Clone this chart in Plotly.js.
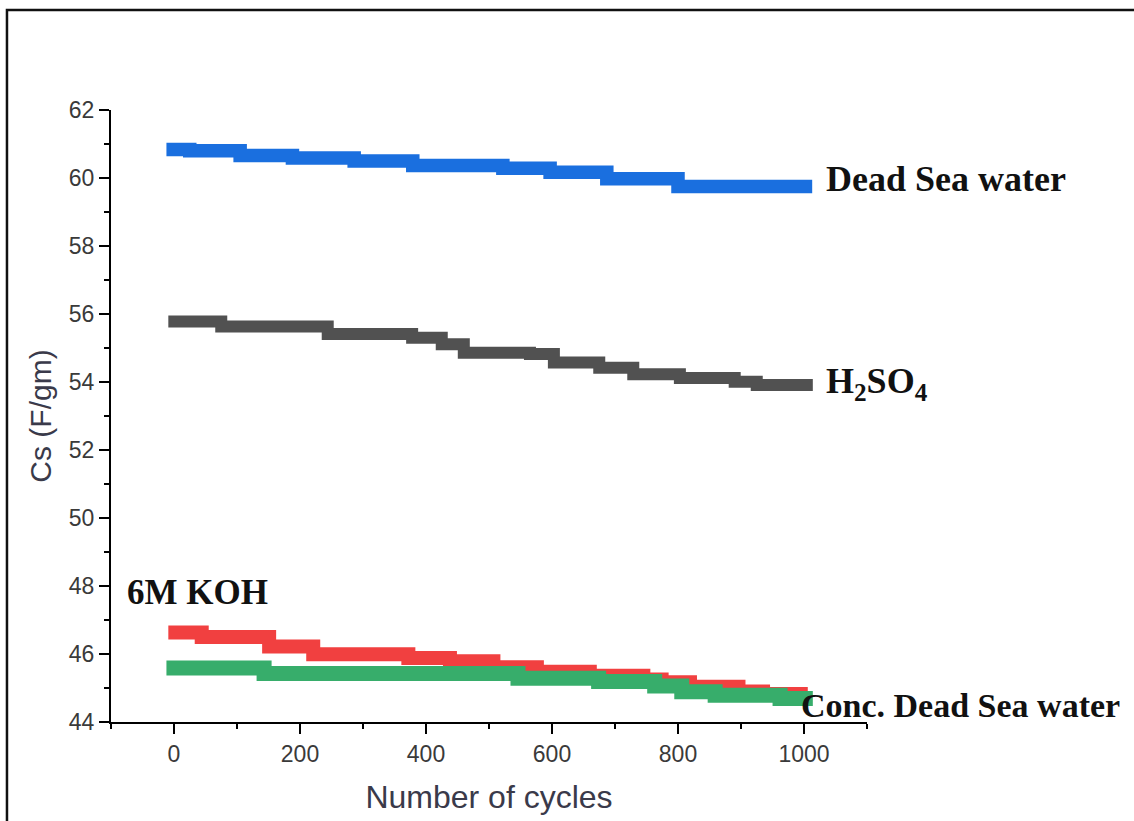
<!DOCTYPE html>
<html>
<head>
<meta charset="utf-8">
<script src="https://cdn.plot.ly/plotly-3.0.1.min.js"></script>
<style>
html,body{margin:0;padding:0;background:#fff;}
#chart{width:1134px;height:821px;}
</style>
</head>
<body>
<div id="chart"></div>
<script>
// Cycle number (x) and specific capacitance Cs (F/gm) for each electrolyte
const deadSeaX = [-12, 25, 105, 188, 286, 379, 522, 597, 687, 800, 1013];
const deadSeaY = [60.84, 60.80, 60.66, 60.59, 60.50, 60.37, 60.29, 60.17, 59.98, 59.75, 59.75];

const h2so4X = [-9, 75, 244, 378, 425, 460, 565, 603, 675, 729, 803, 890, 925, 1014];
const h2so4Y = [55.78, 55.63, 55.41, 55.30, 55.11, 54.86, 54.82, 54.57, 54.42, 54.23, 54.12, 54.01, 53.91, 53.91];

const kohX = [-9, 44, 151, 221, 372, 438, 507, 576, 660, 745, 774, 819, 896, 935, 1006];
const kohY = [46.63, 46.50, 46.22, 45.99, 45.88, 45.79, 45.61, 45.48, 45.36, 45.25, 45.17, 45.04, 44.90, 44.82, 44.82];

const concX = [-12, 143, 546, 674, 763, 806, 859, 962, 1014];
const concY = [45.59, 45.43, 45.29, 45.19, 45.06, 44.89, 44.79, 44.69, 44.69];

const xTickVals = [0, 200, 400, 600, 800, 1000];
const yTickVals = [44, 46, 48, 50, 52, 54, 56, 58, 60, 62];

const labels = {
  deadSea: "Dead Sea water",
  h2so4: "H<sub>2</sub>SO<sub>4</sub>",
  koh: "6M KOH",
  conc: "Conc. Dead Sea water"
};

function stepTrace(x, y, color, width, name) {
  return {
    type: "scatter", mode: "lines", x: x, y: y, name: name,
    line: {shape: "hv", color: color, width: width},
    hoverinfo: "skip", showlegend: false
  };
}

const data = [
  stepTrace(deadSeaX, deadSeaY, "#1A6FDF", 13.5, "Dead Sea water"),
  stepTrace(h2so4X, h2so4Y, "#515151", 12, "H2SO4"),
  stepTrace(kohX, kohY, "#F14040", 14, "6M KOH"),
  stepTrace(concX, concY, "#37AD6B", 15, "Conc. Dead Sea water")
];

const tickFont = {family: "Liberation Sans, Arial, sans-serif", size: 23, color: "#3a3a3a"};
function annFont(size) {
  return {family: "Liberation Serif, Times New Roman, serif", size: size, color: "#111"};
}

const layout = {
  width: 1134, height: 821,
  margin: {l: 111, r: 267, t: 110, b: 99},
  paper_bgcolor: "#fff", plot_bgcolor: "#fff",
  showlegend: false,
  xaxis: {
    range: [-100, 1100], tickmode: "array", tickvals: xTickVals,
    showline: true, linecolor: "#000", linewidth: 2,
    ticks: "outside", ticklen: 10, tickwidth: 2, tickcolor: "#000",
    minor: {ticks: "outside", ticklen: 5, tickwidth: 2, tickcolor: "#000", dtick: 100, tick0: 0, showgrid: false},
    showgrid: false, zeroline: false, tickfont: tickFont,
    title: {text: "Number of cycles", font: {family: "Liberation Sans, Arial, sans-serif", size: 32, color: "#3a3a4a"}, standoff: 20}
  },
  yaxis: {
    range: [44, 62], tickmode: "array", tickvals: yTickVals,
    showline: true, linecolor: "#000", linewidth: 2,
    ticks: "outside", ticklen: 10, tickwidth: 2, tickcolor: "#000",
    minor: {ticks: "outside", ticklen: 5, tickwidth: 2, tickcolor: "#000", dtick: 1, tick0: 44, showgrid: false},
    showgrid: false, zeroline: false, tickfont: tickFont,
    title: {text: "Cs (F/gm)", font: {family: "Liberation Sans, Arial, sans-serif", size: 30, color: "#3a3a4a"}, standoff: 8}
  },
  annotations: [
    {xref: "x", yref: "y", x: 1031, y: 59.97, text: "<b>" + labels.deadSea + "</b>", showarrow: false, xanchor: "left", yanchor: "middle", font: annFont(36)},
    {xref: "x", yref: "y", x: 1031, y: 53.95, text: "<b>" + labels.h2so4 + "</b>", showarrow: false, xanchor: "left", yanchor: "middle", font: annFont(36)},
    {xref: "x", yref: "y", x: -77, y: 47.82, text: "<b>" + labels.koh + "</b>", showarrow: false, xanchor: "left", yanchor: "middle", font: annFont(35)},
    {xref: "x", yref: "y", x: 992, y: 44.5, text: "<b>" + labels.conc + "</b>", showarrow: false, xanchor: "left", yanchor: "middle", font: annFont(34)}
  ],
  shapes: [
    {type: "path", xref: "paper", yref: "paper",
     path: "M -0.1376,-0.17 L -0.1376,1.1634 L 1.36,1.1634",
     line: {color: "#111", width: 2.5}}
  ]
};

Plotly.newPlot("chart", data, layout, {displayModeBar: false, staticPlot: true});
</script>
</body>
</html>
